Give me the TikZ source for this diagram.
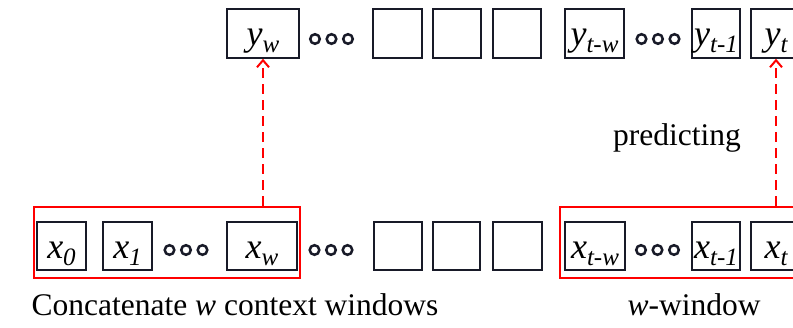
\documentclass[tikz,border=0pt]{standalone}
\usepackage{fontspec}
\setmainfont{Liberation Serif}
\usetikzlibrary{arrows.meta}
\definecolor{boxline}{RGB}{24,26,40}
\newcommand\sbs[1]{\raisebox{-7pt}{\fontsize{25}{25}\selectfont\itshape #1}}
\newcommand\lab[2]{{\itshape #1}\sbs{#2}}

\begin{document}
\begin{tikzpicture}[x=1pt, y=-1pt,
  cell/.style={rectangle, draw=boxline, line width=2pt, minimum height=48.5pt,
    inner sep=0pt, text height=26pt, text depth=2pt,
    font=\fontsize{36}{36}\selectfont},
  win/.style={rectangle, draw=red, line width=2pt, minimum height=71pt, inner sep=0pt},
  pred/.style={red, line width=2pt, dash pattern=on 10pt off 6pt,
    -{Straight Barb[length=7pt,width=12pt,line width=2pt]}},
  ooo/.pic={\foreach \i in {-16.5,0,16.5} \draw[boxline, line width=2.5pt] (\i,0) circle (4.8);},
  caplab/.style={anchor=base, font=\fontsize{31.5}{32}\selectfont}
]
\clip (0,0) rectangle (793,327);

% outputs
\node[cell, minimum width=72pt] (yw)  at (263,33.5)   {\lab{y}{w}};
\pic at (331.5,39) {ooo};
\node[cell, minimum width=49pt] (yb1) at (397.5,33.5) {};
\node[cell, minimum width=48pt] (yb2) at (457,33.5)   {};
\node[cell, minimum width=48pt] (yb3) at (517,33.5)   {};
\node[cell, minimum width=59pt] (ytw) at (594.5,33.5) {\lab{y}{t-w}};
\pic at (658,39) {ooo};
\node[cell, minimum width=48pt] (yt1) at (716,33.5)   {\lab{y}{t-1}};
\node[cell, minimum width=50pt] (yt)  at (776,33.5)   {\lab{y}{t}};

% inputs
\node[cell, minimum width=49pt] (x0)  at (61.5,246)  {\lab{x}{0}};
\node[cell, minimum width=49pt] (x1)  at (127.5,246) {\lab{x}{1}};
\pic at (186,250) {ooo};
\node[cell, minimum width=70pt] (xw)  at (262,246)   {\lab{x}{w}};
\pic at (331,250) {ooo};
\node[cell, minimum width=48pt] (xb1) at (398,246)   {};
\node[cell, minimum width=47pt] (xb2) at (456.5,246) {};
\node[cell, minimum width=49pt] (xb3) at (517.5,246) {};
\node[cell, minimum width=60pt] (xtw) at (595,246)   {\lab{x}{t-w}};
\pic at (657.5,250) {ooo};
\node[cell, minimum width=48pt] (xt1) at (716,246)   {\lab{x}{t-1}};
\node[cell, minimum width=50pt] (xt)  at (776,246)   {\lab{x}{t}};

% windows
\node[win, minimum width=266pt] (ctx) at (166.5,242) {};
\node[win, minimum width=245pt] (cur) at (682.5,242) {};

\draw[pred] (ctx.north -| yw.south) -- (yw.south);
\draw[pred] (cur.north -| yt.south) -- (yt.south);

\node[caplab] (predlab) at (677,145) {predicting};
\node[caplab] (ctxlab) at (235,315) {Concatenate \textit{w} context windows};
\node[caplab] (curlab) at (694,315) {\textit{w}-window};
\end{tikzpicture}
\end{document}
